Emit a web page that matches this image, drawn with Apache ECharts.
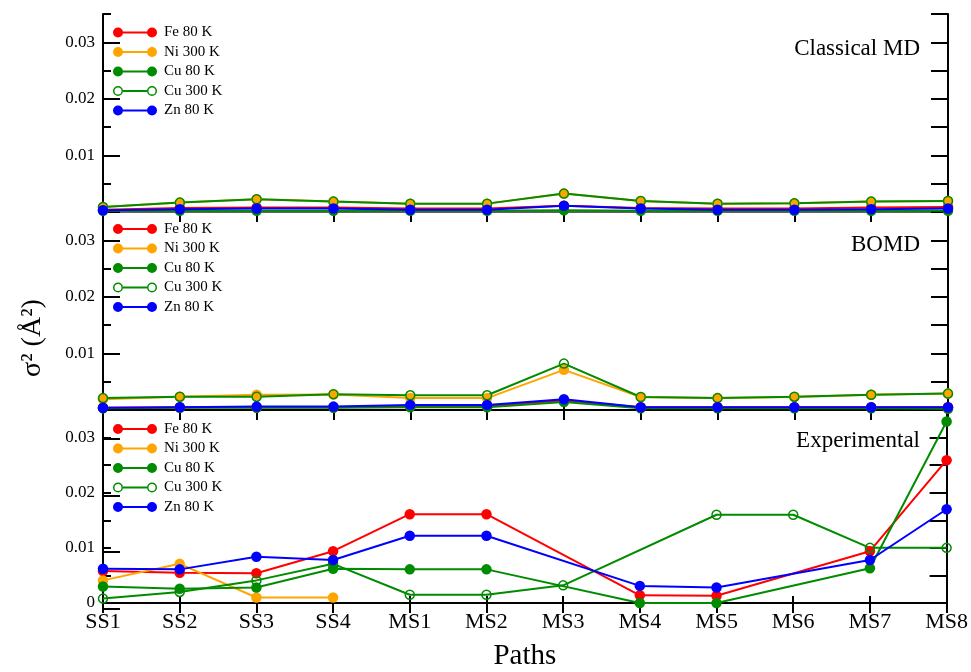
<!DOCTYPE html>
<html>
<head>
<meta charset="utf-8">
<script src="https://cdn.jsdelivr.net/npm/echarts@6/dist/echarts.min.js"></script>
<style>html,body{margin:0;padding:0;background:#fff}#c{width:971px;height:672px}</style>
</head>
<body>
<div id="c"></div>
<script>
// ---------- data ----------
const categories = ['SS1','SS2','SS3','SS4','MS1','MS2','MS3','MS4','MS5','MS6','MS7','MS8'];
const seriesNames = ['Fe 80 K','Ni 300 K','Cu 80 K','Cu 300 K','Zn 80 K'];
const panelTitles = ['Classical MD','BOMD','Experimental'];
const yTickLabels = ['0','0.01','0.02','0.03'];

// Classical MD
const mdFe    = [0.0004,0.0007,0.0008,0.0008,0.0006,0.0006,0.0011,0.0007,0.0006,0.0006,0.0008,0.0009];
const mdNi    = [0.00088,0.00166,0.00225,0.00184,0.00148,0.00148,0.00325,0.00195,0.00148,0.00153,0.00184,0.00195];
const mdCu80  = [0.0002,0.0002,0.0002,0.0002,0.0002,0.0002,0.0003,0.0002,0.0002,0.0002,0.0002,0.0002];
const mdCu300 = [0.00088,0.00166,0.00225,0.00184,0.00148,0.00148,0.00325,0.00195,0.00148,0.00153,0.00184,0.00195];
const mdZn    = [0.0003,0.0005,0.0006,0.0006,0.0004,0.0004,0.0011,0.0006,0.0004,0.0004,0.0005,0.0006];

// BOMD
const bmFe    = [0.0004,0.0005,0.0005,0.0005,0.0007,0.0007,0.0017,0.0005,0.0005,0.0005,0.0005,0.0005];
const bmNi    = [0.0019,0.00235,0.0027,0.00275,0.0021,0.0021,0.0071,0.0023,0.0021,0.0023,0.0027,0.0029];
const bmCu80  = [0.0003,0.0004,0.0004,0.0004,0.0005,0.0005,0.0014,0.0003,0.0003,0.0003,0.0003,0.0002];
const bmCu300 = [0.0021,0.00235,0.00235,0.0028,0.0026,0.0026,0.0082,0.0023,0.0021,0.00235,0.0027,0.0029];
const bmZn    = [0.0004,0.0005,0.0006,0.0006,0.0009,0.0009,0.0019,0.0005,0.0005,0.0005,0.0005,0.0005];

// Experimental
const exFe    = [0.0058,0.0055,0.0054,0.0094,0.0161,0.0161,null,0.0014,0.0013,null,0.0094,0.0259];
const exNi    = [0.0041,0.0071,0.0010,0.0010,null,null,null,null,null,null,null,null];
const exCu80  = [0.0030,0.0026,0.0028,0.0062,0.0061,0.0061,null,0,0,null,0.0063,0.0329];
const exCu300 = [0.0008,0.0020,0.0041,0.0071,0.0015,0.0015,0.0032,null,0.0160,0.0160,0.0100,0.0100];
const exZn    = [0.0062,0.0061,0.0084,0.0078,0.0122,0.0122,null,0.0031,0.0028,null,0.0078,0.0170];

const panelData = [
  [mdFe, mdNi, mdCu80, mdCu300, mdZn],
  [bmFe, bmNi, bmCu80, bmCu300, bmZn],
  [exFe, exNi, exCu80, exCu300, exZn]
];

// ---------- styles / layout ----------
const colors = ['#ff0000','#ffa500','#008b00','#008b00','#0000ff'];
const hollow = [false,false,false,true,false];
const FONT = '"Liberation Serif", "DejaVu Serif", serif';
const GL = 103, GR = 23;
const panels = [{top:14,h:198},{top:212,h:198},{top:410,h:199}];
const YMAX = 0.035;

const ICON_FILLED = 'path://M0,5A5,5,0,1,1,10,5A5,5,0,1,1,0,5ZM9,4L35,4L35,6L9,6ZM34,5A5,5,0,1,1,44,5A5,5,0,1,1,34,5Z';
const ICON_HOLLOW = 'path://M0,5A5,5,0,1,1,10,5A5,5,0,1,1,0,5ZM1.5,5A3.5,3.5,0,1,0,8.5,5A3.5,3.5,0,1,0,1.5,5Z' +
  'M10,4L34,4L34,6L10,6Z' +
  'M34,5A5,5,0,1,1,44,5A5,5,0,1,1,34,5ZM35.5,5A3.5,3.5,0,1,0,42.5,5A3.5,3.5,0,1,0,35.5,5Z';

const grid = [], xAxis = [], yAxis = [], series = [], legend = [], graphic = [];
const legendTops = [25, 221.5, 421.5];
const titleY = [49, 245, 441];

function yLabel(showZero) {
  return function (v) {
    const k = Math.round(v * 1000);
    if (k % 10 !== 0) return '';
    const idx = k / 10;
    if (idx === 0 && !showZero) return '';
    return yTickLabels[idx] || '';
  };
}

panels.forEach((p, i) => {
  grid.push({left: GL, right: GR, top: p.top, height: p.h, containLabel: false});
  const last = i === panels.length - 1;
  xAxis.push({
    type: 'category', gridIndex: i, data: categories, boundaryGap: false, position: 'bottom',
    axisLine: {show: true, lineStyle: {color: '#000', width: 2}},
    axisTick: {show: true, inside: true, length: 7, lineStyle: {color: '#000', width: 2}},
    axisLabel: {show: last, color: '#000', fontSize: 22, fontFamily: FONT, margin: 8},
    splitLine: {show: false},
    name: last ? 'Paths' : '', nameLocation: 'middle', nameGap: 39,
    nameTextStyle: {color: '#000', fontSize: 29, fontFamily: FONT}
  });
  xAxis.push({
    type: 'category', gridIndex: i, data: categories, boundaryGap: false, position: 'top',
    axisLine: {show: i === 0, lineStyle: {color: '#808080', width: 1.5}},
    axisTick: {show: true, inside: true, length: 10, lineStyle: {color: '#000', width: 2}},
    axisLabel: {show: false}, splitLine: {show: false}
  });
  yAxis.push({
    type: 'value', gridIndex: i, position: 'left', min: 0, max: YMAX, interval: 0.005,
    axisLine: {show: true, lineStyle: {color: '#000', width: 2}},
    axisTick: {show: true, inside: true, length: 8, lineStyle: {color: '#000', width: 2}},
    axisLabel: {show: true, color: '#000', fontSize: 17, fontFamily: FONT, margin: 8, formatter: yLabel(last)},
    splitLine: {show: false}
  });
  yAxis.push({
    type: 'value', gridIndex: i, position: 'right', min: 0, max: YMAX, interval: 0.005,
    axisLine: {show: true, lineStyle: {color: '#000', width: 2}},
    axisTick: {show: true, inside: true, length: 17, lineStyle: {color: '#000', width: 2}},
    axisLabel: {show: false}, splitLine: {show: false}
  });

  const xi = i * 2, yi = i * 2;
  panelData[i].forEach((arr, s) => {
    const c = colors[s];
    series.push({
      type: 'line', name: seriesNames[s], xAxisIndex: xi, yAxisIndex: yi,
      data: arr, connectNulls: true, clip: false,
      symbol: 'circle', symbolSize: hollow[s] ? 9 : 10.5,
      lineStyle: {color: c, width: 2},
      itemStyle: hollow[s] ? {color: 'rgba(255,255,255,0)', borderColor: c, borderWidth: 1.5} : {color: c, borderWidth: 0},
      emphasis: {disabled: true}, silent: true, animation: false
    });
  });

  legend.push({
    orient: 'vertical', left: 113, top: legendTops[i], padding: 0,
    itemWidth: 44, itemHeight: 10, itemGap: 4.5, selectedMode: false,
    textStyle: {color: '#000', fontSize: 15, lineHeight: 15, fontFamily: FONT, padding: [0, 0, 0, 2]},
    data: seriesNames.map((n, s) => ({
      name: n, icon: hollow[s] ? ICON_HOLLOW : ICON_FILLED,
      itemStyle: {color: colors[s], borderWidth: 0}
    }))
  });

  graphic.push({
    type: 'text', x: 920, y: titleY[i], silent: true,
    style: {text: panelTitles[i], fill: '#000', font: '23px ' + FONT,
      align: 'right', textAlign: 'right', verticalAlign: 'middle', textVerticalAlign: 'middle'}
  });
});

// overlay grids for long major ticks on the left (0, 0.01, 0.02, 0.03)
panels.forEach((p, i) => {
  const off = p.h * (0.005 / YMAX);
  const gi = grid.length;
  grid.push({left: GL, right: GR, top: p.top + off, height: p.h - off, containLabel: false});
  xAxis.push({type: 'category', gridIndex: gi, data: categories, show: false});
  yAxis.push({
    type: 'value', gridIndex: gi, position: 'left', min: 0, max: 0.03, interval: 0.01,
    axisLine: {show: false},
    axisTick: {show: true, inside: true, length: 17, lineStyle: {color: '#000', width: 2}},
    axisLabel: {show: false}, splitLine: {show: false}
  });
});

graphic.push({
  type: 'text', x: 33, y: 338, rotation: Math.PI / 2, silent: true,
  style: {text: 'σ² (Å²)', fill: '#000', font: '28px ' + FONT,
    align: 'center', textAlign: 'center', verticalAlign: 'middle', textVerticalAlign: 'middle'}
});

const chart = echarts.init(document.getElementById('c'), null, {renderer: 'canvas'});
chart.setOption({
  animation: false,
  backgroundColor: '#fff',
  grid, xAxis, yAxis, series, legend, graphic
});
</script>
</body>
</html>
